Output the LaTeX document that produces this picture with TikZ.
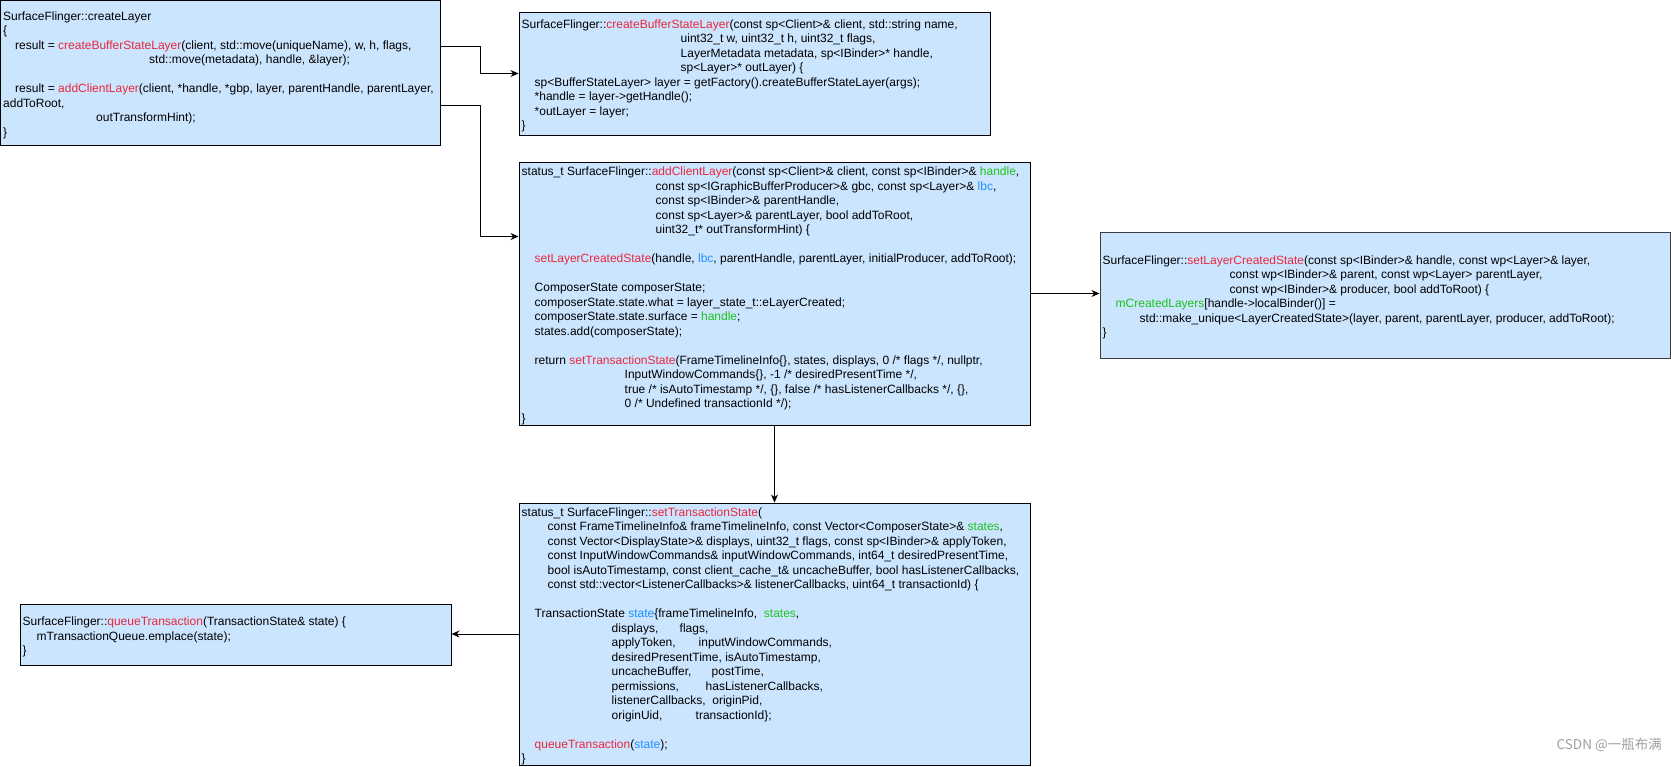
\documentclass[tikz,border=0pt]{standalone}
\usepackage{fontspec}
\setmainfont{Liberation Sans}
\newfontfamily\cjkfont{Noto Sans CJK SC}
\usetikzlibrary{arrows.meta}
\definecolor{boxfill}{HTML}{CCE5FF}
\definecolor{fred}{HTML}{E8283C}
\definecolor{fgreen}{HTML}{1DC21D}
\definecolor{fblue}{HTML}{1E8FFF}
\definecolor{wmgray}{HTML}{A0A0A0}
\newcommand\cred[1]{\textcolor{fred}{#1}}
\newcommand\cgreen[1]{\textcolor{fgreen}{#1}}
\newcommand\cblue[1]{\textcolor{fblue}{#1}}
\newcommand\ind[1]{\hspace*{#1pt}}
\newcommand\colw[2]{\makebox[#1pt][l]{#2}}
\tikzset{
  codebox/.style={draw=black, line width=1pt, fill=boxfill, inner sep=0pt},
  codetext/.style={anchor=west, align=left, inner sep=0pt,
    font=\fontsize{12}{14.5}\selectfont},
  conn/.style={draw=black, line width=1pt, -{Stealth[length=8pt,width=7pt]}},
}
\begin{document}
\begin{tikzpicture}[x=1pt,y=-1pt]
\useasboundingbox (0,0) rectangle (1671,766);

% boxes
\node[codebox, minimum width=439.5pt, minimum height=144.5pt] (b1) at (220.25,72.75) {};
\node[codebox, minimum width=471pt, minimum height=123pt] (b2) at (754.5,73.5) {};
\node[codebox, minimum width=511pt, minimum height=263pt] (b3) at (774.5,293.5) {};
\node[codebox, draw={rgb,255:red,60;green,60;blue,60}, minimum width=570pt, minimum height=126pt] (b4) at (1385,295) {};
\node[codebox, minimum width=511pt, minimum height=262pt] (b5) at (774.5,634) {};
\node[codebox, minimum width=431pt, minimum height=61pt] (b6) at (235.5,634.5) {};

% texts
\node[codetext] (t1) at ([xshift=3pt,yshift=-2.5pt]b1.west) {%
SurfaceFlinger::createLayer\\
\{\\
\ind{12}result = \cred{createBufferStateLayer}(client, std::move(uniqueName), w, h, flags,\\
\ind{146}std::move(metadata), handle, \&layer);\\
\mbox{}\\
\ind{12}result = \cred{addClientLayer}(client, *handle, *gbp, layer, parentHandle, parentLayer,\\
addToRoot,\\
\ind{93}outTransformHint);\\
\}};

\node[codetext] (t2) at ([xshift=3pt,yshift=-2.5pt]b2.west) {%
SurfaceFlinger::\cred{createBufferStateLayer}(const sp<Client>\& client, std::string name,\\
\ind{159}uint32\_t w, uint32\_t h, uint32\_t flags,\\
\ind{159}LayerMetadata metadata, sp<IBinder>* handle,\\
\ind{159}sp<Layer>* outLayer) \{\\
\ind{13}sp<BufferStateLayer> layer = getFactory().createBufferStateLayer(args);\\
\ind{13}*handle = layer->getHandle();\\
\ind{13}*outLayer = layer;\\
\}};

\node[codetext] (t3) at ([xshift=3pt,yshift=-2.5pt]b3.west) {%
status\_t SurfaceFlinger::\cred{addClientLayer}(const sp<Client>\& client, const sp<IBinder>\& \cgreen{handle},\\
\ind{134}const sp<IGraphicBufferProducer>\& gbc, const sp<Layer>\& \cblue{lbc},\\
\ind{134}const sp<IBinder>\& parentHandle,\\
\ind{134}const sp<Layer>\& parentLayer, bool addToRoot,\\
\ind{134}uint32\_t* outTransformHint) \{\\
\mbox{}\\
\ind{13}\cred{setLayerCreatedState}(handle, \cblue{lbc}, parentHandle, parentLayer, initialProducer, addToRoot);\\
\mbox{}\\
\ind{13}ComposerState composerState;\\
\ind{13}composerState.state.what = layer\_state\_t::eLayerCreated;\\
\ind{13}composerState.state.surface = \cgreen{handle};\\
\ind{13}states.add(composerState);\\
\mbox{}\\
\ind{13}return \cred{setTransactionState}(FrameTimelineInfo\{\}, states, displays, 0 /* flags */, nullptr,\\
\ind{103}InputWindowCommands\{\}, -1 /* desiredPresentTime */,\\
\ind{103}true /* isAutoTimestamp */, \{\}, false /* hasListenerCallbacks */, \{\},\\
\ind{103}0 /* Undefined transactionId */);\\
\}};

\node[codetext] (t4) at ([xshift=3pt,yshift=-2.5pt]b4.west) {%
SurfaceFlinger::\cred{setLayerCreatedState}(const sp<IBinder>\& handle, const wp<Layer>\& layer,\\
\ind{127}const wp<IBinder>\& parent, const wp<Layer> parentLayer,\\
\ind{127}const wp<IBinder>\& producer, bool addToRoot) \{\\
\ind{13}\cgreen{mCreatedLayers}[handle->localBinder()] =\\
\ind{37}std::make\_unique<LayerCreatedState>(layer, parent, parentLayer, producer, addToRoot);\\
\}};

\node[codetext] (t5) at ([xshift=3pt,yshift=-2.5pt]b5.west) {%
status\_t SurfaceFlinger::\cred{setTransactionState}(\\
\ind{26}const FrameTimelineInfo\& frameTimelineInfo, const Vector<ComposerState>\& \cgreen{states},\\
\ind{26}const Vector<DisplayState>\& displays, uint32\_t flags, const sp<IBinder>\& applyToken,\\
\ind{26}const InputWindowCommands\& inputWindowCommands, int64\_t desiredPresentTime,\\
\ind{26}bool isAutoTimestamp, const client\_cache\_t\& uncacheBuffer, bool hasListenerCallbacks,\\
\ind{26}const std::vector<ListenerCallbacks>\& listenerCallbacks, uint64\_t transactionId) \{\\
\mbox{}\\
\ind{13}TransactionState \cblue{state}\{frameTimelineInfo,\ \ \cgreen{states},\\
\ind{90}\colw{68}{displays,}flags,\\
\ind{90}\colw{87}{applyToken,}inputWindowCommands,\\
\ind{90}desiredPresentTime, isAutoTimestamp,\\
\ind{90}\colw{100}{uncacheBuffer,}postTime,\\
\ind{90}\colw{94}{permissions,}hasListenerCallbacks,\\
\ind{90}listenerCallbacks,\ \ originPid,\\
\ind{90}\colw{84}{originUid,}transactionId\};\\
\mbox{}\\
\ind{13}\cred{queueTransaction}(\cblue{state});\\
\}};

\node[codetext] (t6) at ([xshift=3pt,yshift=-2.5pt]b6.west) {%
SurfaceFlinger::\cred{queueTransaction}(TransactionState\& state) \{\\
\ind{14}mTransactionQueue.emplace(state);\\
\}};

% connectors
\draw[conn] ([yshift=26.5pt]b1.east) -- ++(40,0) |- (b2.west);
\draw[conn] ([yshift=-33pt]b1.east) -- ++(40,0) |- ([yshift=57pt]b3.west);
\draw[conn] (b3.east) -- (b3.east -| b4.west);
\draw[conn] (b3.south) -- (b5.north);
\draw[conn] (b5.west) -- (b5.west -| b6.east);

% watermark
\node[anchor=east, inner sep=0pt, text=wmgray, font=\cjkfont\fontsize{13.5}{16}\selectfont] (wm) at (1662,745) {CSDN @一瓶布满};
\end{tikzpicture}
\end{document}
